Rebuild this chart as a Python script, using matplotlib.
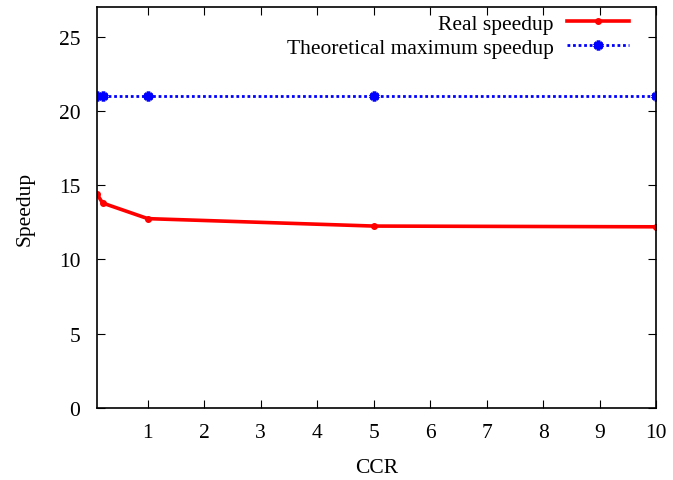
import matplotlib
matplotlib.use("Agg")
import matplotlib.pyplot as plt

ccr = [0.1, 0.2, 1, 5, 10]
real_speedup = [14.4, 13.8, 12.75, 12.25, 12.2]
theoretical_speedup = [21, 21, 21, 21, 21]
xticks = [1, 2, 3, 4, 5, 6, 7, 8, 9, 10]
yticks = [0, 5, 10, 15, 20, 25]

plt.rcParams['font.family'] = ['Liberation Serif', 'DejaVu Serif']
fig = plt.figure(figsize=(6.73, 4.81), dpi=100)
ax = fig.add_axes([97/673, 1-409/481, (656-97)/673, (409-8)/481])

ax.plot(ccr, real_speedup, color='#ff0000', lw=2.6, marker='o', ms=4, label='Real speedup')
ax.plot(ccr, theoretical_speedup, color='#0000ff', lw=2, ls=(0, (1, 1)), marker=(6, 2, 0), ms=7, mew=2.6,
        label='Theoretical maximum speedup')

ax.set_xlim(0.1, 10)
ax.set_ylim(0, 27)
ax.set_xticks(xticks)
ax.set_yticks(yticks)
ax.tick_params(axis='both', direction='in', top=True, right=True, labelsize=15.5, length=6, width=0.8)
ax.tick_params(axis='y', pad=12)
ax.tick_params(axis='x', pad=11)
for s in ax.spines.values():
    s.set_linewidth(1.2)
ax.set_xlabel('CCR', fontsize=15.5, labelpad=11)
ax.set_ylabel('Speedup', fontsize=15.5, labelpad=17)

leg = ax.legend(loc='upper right', frameon=False, markerfirst=False, fontsize=15.5,
                handlelength=2.9, handletextpad=0.6, borderaxespad=0.2, labelspacing=0.18,
                bbox_to_anchor=(0.975, 1.016))
for t in leg.get_texts():
    t.set_ha('right')

fig.savefig('out.png', dpi=100)
